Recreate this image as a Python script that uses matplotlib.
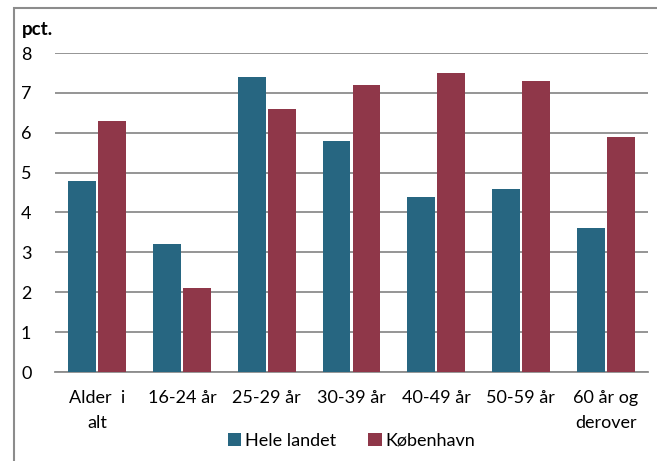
import numpy as np
import matplotlib.pyplot as plt
from matplotlib.patches import Rectangle

plt.rcParams['font.family'] = ['Lato', 'DejaVu Sans']

categories = ['Alder  i\nalt', '16-24 år', '25-29 år', '30-39 år', '40-49 år', '50-59 år', '60 år og\nderover']
hele_landet = [4.8, 3.2, 7.4, 5.8, 4.4, 4.6, 3.6]
kobenhavn = [6.3, 2.1, 6.6, 7.2, 7.5, 7.3, 5.9]

teal = '#276681'
red = '#8f3749'

W, H = 657, 461
fig = plt.figure(figsize=(W / 100, H / 100), dpi=100)

# chart frame
fig.patches.append(Rectangle((14 / W, -0.01), 1.0, 1 - 8 / H + 0.01, transform=fig.transFigure,
                             fill=False, edgecolor='#8c8c8c', linewidth=1.5))

ax = fig.add_axes([55 / W, 1 - 372 / H, (648 - 55) / W, (372 - 53) / H])
x = np.arange(len(categories))
w = 0.33
ax.bar(x - w / 2 - 0.012, hele_landet, width=w, color=teal, label='Hele landet', zorder=3)
ax.bar(x + w / 2 + 0.012, kobenhavn, width=w, color=red, label='København', zorder=3)

ax.set_xlim(-0.5, len(categories) - 0.5)
ax.set_ylim(0, 8)
ax.set_yticks(range(0, 9))
ax.yaxis.grid(True, color='#8c8c8c', linewidth=1.3, zorder=0)
for s in ['top', 'right', 'left']:
    ax.spines[s].set_visible(False)
ax.spines['bottom'].set_color('#8c8c8c')
ax.spines['bottom'].set_linewidth(1.3)
ax.tick_params(axis='both', length=0, labelsize=13)
ax.tick_params(axis='y', pad=17)
ax.tick_params(axis='x', pad=13)
ax.set_xticks(x)
ax.set_xticklabels(categories, linespacing=1.65)

fig.text(22 / W, 1 - 30 / H, 'pct.', fontsize=13.5, fontweight='bold', va='center', ha='left')

ax.legend(loc='center', bbox_to_anchor=(0.5, -0.215), ncol=2, frameon=False,
          fontsize=13, handlelength=0.75, handleheight=0.75, handletextpad=0.2, columnspacing=1.8)

fig.savefig('out.png', dpi=100)
